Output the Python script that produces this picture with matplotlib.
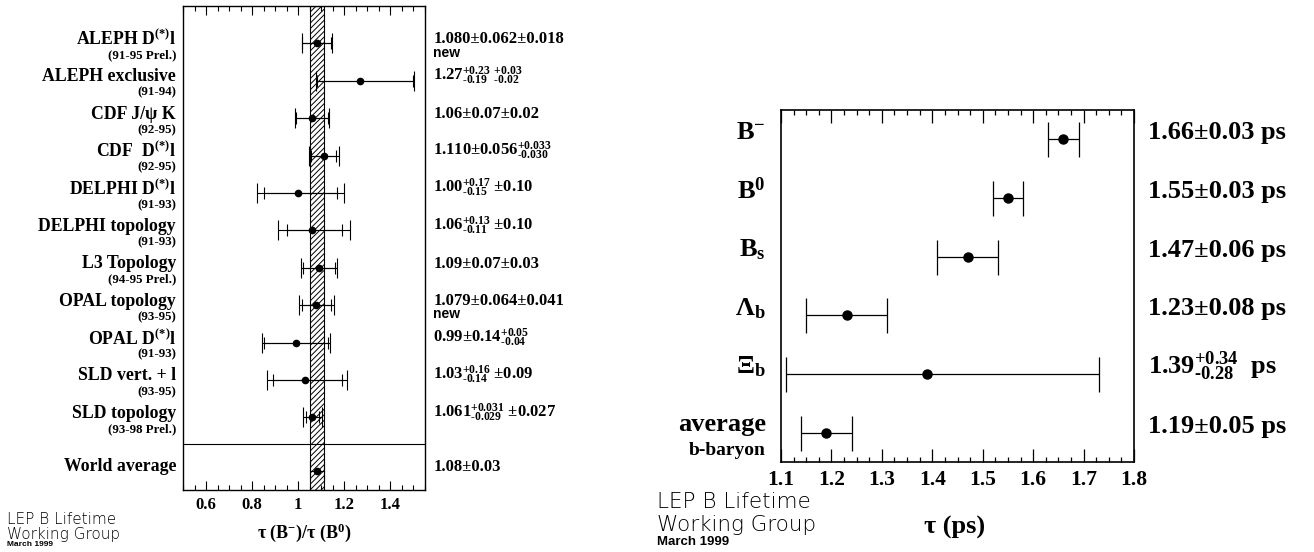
import numpy as np
import matplotlib
matplotlib.use("Agg")
import matplotlib.pyplot as plt
from matplotlib.ticker import MultipleLocator

plt.rcParams['font.family'] = ['Liberation Serif', 'DejaVu Sans']
plt.rcParams['font.weight'] = 'bold'
plt.rcParams['mathtext.fontset'] = 'custom'
plt.rcParams['mathtext.rm'] = 'Liberation Serif:bold'
plt.rcParams['mathtext.it'] = 'Liberation Serif:bold'
plt.rcParams['mathtext.bf'] = 'Liberation Serif:bold'
plt.rcParams['hatch.linewidth'] = 0.7

# left panel: tau(B-)/tau(B0) measurements
left_names = ["ALEPH D$^{(*)}$l", "ALEPH exclusive", "CDF J/ψ K", "CDF  D$^{(*)}$l",
              "DELPHI D$^{(*)}$l", "DELPHI topology", "L3 Topology", "OPAL topology",
              "OPAL D$^{(*)}$l", "SLD vert. + l", "SLD topology"]
left_years = ["(91-95 Prel.)", "(91-94)", "(92-95)", "(92-95)", "(91-93)", "(91-93)",
              "(94-95 Prel.)", "(93-95)", "(91-93)", "(93-95)", "(93-98 Prel.)"]
left_vals = [1.080, 1.27, 1.06, 1.110, 1.00, 1.06, 1.09, 1.079, 0.99, 1.03, 1.061]
left_stat_up = [0.062, 0.23, 0.07, 0.056, 0.17, 0.13, 0.07, 0.064, 0.14, 0.16, 0.031]
left_stat_dn = [0.062, 0.19, 0.07, 0.056, 0.15, 0.11, 0.07, 0.064, 0.14, 0.14, 0.029]
left_syst_up = [0.018, 0.03, 0.02, 0.033, 0.10, 0.10, 0.03, 0.041, 0.05, 0.09, 0.027]
left_syst_dn = [0.018, 0.02, 0.02, 0.030, 0.10, 0.10, 0.03, 0.041, 0.04, 0.09, 0.027]
left_results = ["1.080±0.062±0.018",
                r"1.27$^{+0.23}_{\text{-}0.19}$ $^{+0.03}_{\text{-}0.02}$",
                "1.06±0.07±0.02",
                r"1.110±0.056$^{+0.033}_{\text{-}0.030}$",
                r"1.00$^{+0.17}_{\text{-}0.15}$ ±0.10",
                r"1.06$^{+0.13}_{\text{-}0.11}$ ±0.10",
                "1.09±0.07±0.03",
                "1.079±0.064±0.041",
                r"0.99±0.14$^{+0.05}_{\text{-}0.04}$",
                r"1.03$^{+0.16}_{\text{-}0.14}$ ±0.09",
                r"1.061$^{+0.031}_{\text{-}0.029}$ ±0.027"]
left_new = [True, False, False, False, False, False, False, True, False, False, False]
world_avg = 1.08
world_err = 0.03
world_text = "1.08±0.03"

# right panel: b-hadron lifetimes
right_names = ["B$^{-}$", "B$^{0}$", "B$_{s}$", "Λ$_{b}$", "Ξ$_{b}$", "average"]
right_vals = [1.66, 1.55, 1.47, 1.23, 1.39, 1.19]
right_err_up = [0.03, 0.03, 0.06, 0.08, 0.34, 0.05]
right_err_dn = [0.03, 0.03, 0.06, 0.08, 0.28, 0.05]
right_results = ["1.66±0.03 ps", "1.55±0.03 ps", "1.47±0.06 ps", "1.23±0.08 ps",
                 r"1.39$^{+0.34}_{\text{-}0.28}$  ps", "1.19±0.05 ps"]

W, H = 1314, 552
fig = plt.figure(figsize=(W / 100, H / 100), dpi=100)


def px(x0, y0, x1, y1):
    return [x0 / W, 1 - y1 / H, (x1 - x0) / W, (y1 - y0) / H]


# ---------------- left panel ----------------
ax1 = fig.add_axes(px(183, 6, 425, 490))
ax1.set_xlim(0.5, 1.55)
ax1.set_ylim(12.94, 0)
rows = np.arange(1, len(left_vals) + 1)
yavg = 12.43

ax1.axvspan(world_avg - world_err, world_avg + world_err, facecolor='none',
            edgecolor='black', hatch='//////', lw=0.8, zorder=1)
ax1.axhline(11.71, color='black', lw=0.8)

vals = np.array(left_vals)
tot_up = np.hypot(left_stat_up, left_syst_up)
tot_dn = np.hypot(left_stat_dn, left_syst_dn)
ax1.errorbar(vals, rows, xerr=[tot_dn, tot_up], fmt='none', ecolor='black',
             elinewidth=0.8, capsize=7.2, capthick=0.8, zorder=3)
ax1.errorbar(vals, rows, xerr=[left_stat_dn, left_stat_up], fmt='o', color='black',
             ms=4.5, elinewidth=0.8, capsize=4.3, capthick=0.8, zorder=4)
ax1.errorbar([world_avg], [yavg], xerr=[[world_err], [world_err]], fmt='o', color='black',
             ms=4.5, elinewidth=0.8, capsize=7.2, capthick=0.8, zorder=4)

yt = ax1.get_yaxis_transform()
for i, y in enumerate(rows):
    ax1.annotate(left_names[i], xy=(0, y), xycoords=yt, xytext=(-5, 3),
                 textcoords='offset points', ha='right', va='center', fontsize=12.8)
    ax1.annotate(left_years[i], xy=(0, y), xycoords=yt, xytext=(-5, -8.5),
                 textcoords='offset points', ha='right', va='center', fontsize=9.3)
    ax1.annotate(left_results[i], xy=(1, y), xycoords=yt, xytext=(6, 0),
                 textcoords='offset points', ha='left', va='baseline', fontsize=12)
    if left_new[i]:
        ax1.annotate("new", xy=(1, y), xycoords=yt, xytext=(6, -9.5),
                     textcoords='offset points', ha='left', va='baseline', fontsize=10,
                     family='Liberation Sans', weight='bold')
ax1.annotate("World average", xy=(0, yavg), xycoords=yt, xytext=(-5, 3),
             textcoords='offset points', ha='right', va='center', fontsize=12.8)
ax1.annotate(world_text, xy=(1, yavg), xycoords=yt, xytext=(6, 0),
             textcoords='offset points', ha='left', va='baseline', fontsize=12)

ax1.set_yticks([])
ax1.xaxis.set_minor_locator(MultipleLocator(0.05))
ax1.tick_params(axis='x', which='both', direction='in', top=True, width=0.8, labelsize=12, pad=5)
ax1.tick_params(axis='x', which='major', length=6.5)
ax1.tick_params(axis='x', which='minor', length=3.6)
ax1.set_xticks([0.6, 0.8, 1.0, 1.2, 1.4])
ax1.set_xticklabels(["0.6", "0.8", "1", "1.2", "1.4"])
for s in ax1.spines.values():
    s.set_linewidth(1.0)

fig.text(304 / W, 1 - 533 / H, "τ (B$^{-}$)/τ (B$^{0}$)", ha='center', va='center', fontsize=13)

# ---------------- right panel ----------------
ax2 = fig.add_axes(px(781, 110, 1134, 462))
ax2.set_xlim(1.1, 1.8)
ax2.set_ylim(6, 0)
rrows = np.arange(len(right_vals)) + 0.5
ax2.errorbar(right_vals, rrows, xerr=[right_err_dn, right_err_up], fmt='o', color='black',
             ms=6.5, elinewidth=0.9, capsize=12.6, capthick=0.9)

yt2 = ax2.get_yaxis_transform()
for i, y in enumerate(rrows):
    ax2.annotate(right_results[i], xy=(1, y), xycoords=yt2, xytext=(10, 0),
                 textcoords='offset points', ha='left', va='baseline', fontsize=19)
    if i < len(rrows) - 1:
        ax2.annotate(right_names[i], xy=(0, y), xycoords=yt2, xytext=(-11, 5),
                     textcoords='offset points', ha='right', va='center', fontsize=19)
ax2.annotate(right_names[-1], xy=(0, rrows[-1]), xycoords=yt2, xytext=(-11, 6),
             textcoords='offset points', ha='right', va='center', fontsize=19)
ax2.annotate("b-baryon", xy=(0, rrows[-1]), xycoords=yt2, xytext=(-11, -12.5),
             textcoords='offset points', ha='right', va='center', fontsize=14)

ax2.set_yticks([])
ax2.xaxis.set_minor_locator(MultipleLocator(0.025))
ax2.tick_params(axis='x', which='both', direction='in', top=True, width=0.9, labelsize=15.5, pad=6)
ax2.tick_params(axis='x', which='major', length=9.5)
ax2.tick_params(axis='x', which='minor', length=3.6)
ax2.set_xticks(np.round(np.arange(1.1, 1.81, 0.1), 1))
for s in ax2.spines.values():
    s.set_linewidth(1.2)

fig.text(955 / W, 1 - 527 / H, "τ (ps)", ha='center', va='center', fontsize=19)

# working group stamps
lep = dict(family='DejaVu Sans', weight='light', ha='left', va='center')
fig.text(7 / W, 1 - 520 / H, "LEP B Lifetime", fontsize=11, **lep)
fig.text(7 / W, 1 - 534 / H, "Working Group", fontsize=11, **lep)
fig.text(7 / W, 1 - 545 / H, "March 1999", fontsize=6, family='Liberation Sans',
         weight='bold', ha='left', va='center')
fig.text(657 / W, 1 - 502 / H, "LEP B Lifetime", fontsize=15.5, **lep)
fig.text(657 / W, 1 - 525 / H, "Working Group", fontsize=15.5, **lep)
fig.text(657 / W, 1 - 542 / H, "March 1999", fontsize=9.5, family='Liberation Sans',
         weight='bold', ha='left', va='center')

fig.savefig("out.png", dpi=100)
